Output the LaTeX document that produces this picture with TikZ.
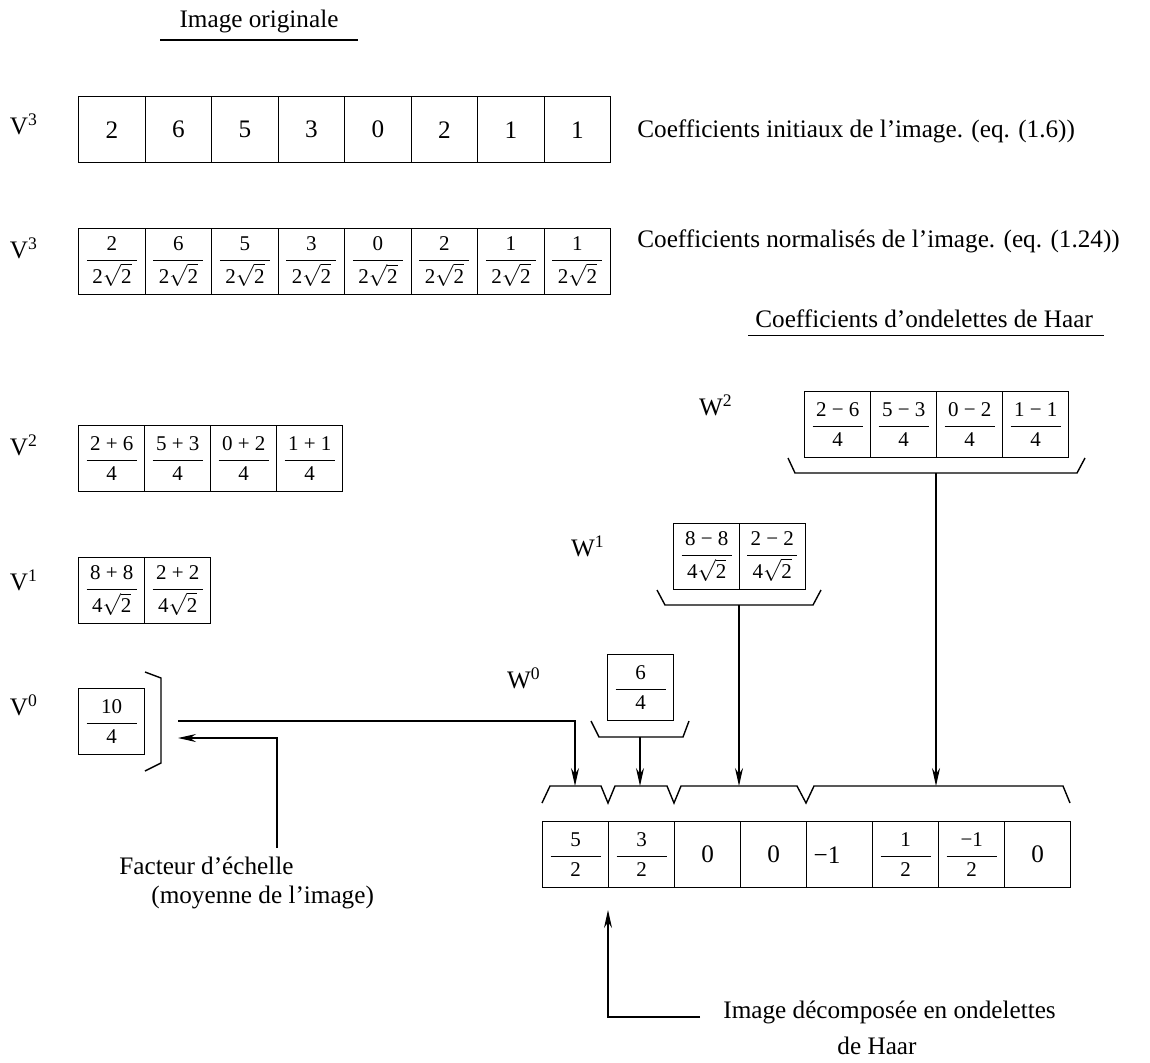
\documentclass[tikz,border=0pt]{standalone}
\usepackage{amsmath}
\usepackage{fontspec}
\setmainfont{Liberation Serif}
\usetikzlibrary{calc,arrows.meta}

% fraction inside a cell, and "n sqrt 2" denominators
\newcommand{\cellfrac}[2]{{\fontsize{10.5}{12}\selectfont$\dfrac{\makebox[25pt]{#1}}{\makebox[25pt]{#2}}$}}
\newcommand{\cellfracr}[2]{{\fontsize{10.5}{12}\selectfont$\dfrac{\makebox[25pt]{\rule[-3pt]{0pt}{3pt}#1}}{\makebox[25pt]{\rule{0pt}{10pt}#2}}$}}
\newcommand{\rootd}[1]{#1$\sqrt{\text{2}}$}

\begin{document}
\begin{tikzpicture}[
    x=0.5pt, y=-0.5pt,
    line width=0.7pt,
    font=\fontsize{12.6}{17}\selectfont,
    % Custom styles for the cells and the arrows
    cell/.style={draw, inner sep=0pt, anchor=north west,
                 minimum width=33pt, minimum height=33pt},
    lvl/.style={font=\fontsize{12.6}{17}\selectfont},
    arr/.style={line width=0.6pt, -{Stealth[length=9pt, width=4pt]}}
]

% ---------------------------------------------------------
% 0. BOUNDING BOX (same ratio as the reference, 1 unit = 1 px)
% ---------------------------------------------------------
\path [use as bounding box] (0,0) rectangle (1150,1062);

% ---------------------------------------------------------
% 1. ORIGINAL IMAGE
% ---------------------------------------------------------
\node (ttl) at (259,21) {Image originale};
\draw ($(ttl.south west)+(-12,0)$) -- ($(ttl.south east)+(12,0)$);

% Initial coefficients (V3)
\node[lvl] (lA) at (24,124) {V\textsuperscript{3}};
\foreach \v [count=\i] in {2,6,5,3,0,2,1,1}
    \node[cell, minimum width=33.25pt, minimum height=33pt] (A\i) at ({78+66.5*(\i-1)},96) {\v};
\node[anchor=west] (tA) at (630,131) {Coefficients initiaux de l'image. (eq. (1.6))};

% Normalised coefficients (V3)
\node[lvl] (lB) at (24,248) {V\textsuperscript{3}};
\foreach \v [count=\i] in {2,6,5,3,0,2,1,1}
    \node[cell, minimum width=33.25pt] (B\i) at ({78+66.5*(\i-1)},228) {\cellfracr{\v}{\rootd{2}}};
\node[anchor=west] (tB) at (630,241) {Coefficients normalisés de l'image. (eq. (1.24))};

% ---------------------------------------------------------
% 2. SCALING SPACES V2, V1, V0
% ---------------------------------------------------------
\node[lvl] (lV2) at (24,445) {V\textsuperscript{2}};
\foreach \n [count=\i] in {2 + 6, 5 + 3, 0 + 2, 1 + 1}
    \node[cell] (P\i) at ({78+66*(\i-1)},425) {\cellfrac{\n}{4}};

\node[lvl] (lV1) at (24,580) {V\textsuperscript{1}};
\foreach \n [count=\i] in {8 + 8, 2 + 2}
    \node[cell] (Q\i) at ({78+66*(\i-1)},557) {\cellfracr{\n}{\rootd{4}}};

\node[lvl] (lV0) at (24,705) {V\textsuperscript{0}};
\node[cell] (R1) at (78,688) {\cellfrac{10}{4}};
\draw (145,672) -- (161,678) -- (161,763) -- (145,771); % bracket

% ---------------------------------------------------------
% 3. WAVELET SPACES W2, W1, W0
% ---------------------------------------------------------
\node[anchor=west] (haar) at (748,319) {Coefficients d'ondelettes de Haar};
\draw (haar.south west) -- ($(haar.south east)+(4,0)$);

\node[lvl] (lW2) at (716,405) {W\textsuperscript{2}};
\foreach \n [count=\i] in {2 − 6, 5 − 3, 0 − 2, 1 − 1}
    \node[cell] (S\i) at ({804+66*(\i-1)},391) {\cellfrac{\n}{4}};
\draw (788,458) -- (795,473) -- (1077,473) -- (1085,458);

\node[lvl] (lW1) at (588,546) {W\textsuperscript{1}};
\foreach \n [count=\i] in {8 − 8, 2 − 2}
    \node[cell] (T\i) at ({673+65.5*(\i-1)},523) {\cellfracr{\n}{\rootd{4}}};
\draw (657,590) -- (665,605) -- (813,605) -- (821,590);

\node[lvl] (lW0) at (524,678) {W\textsuperscript{0}};
\node[cell] (U1) at (607,654) {\cellfrac{6}{4}};
\draw (591,721) -- (599,737) -- (683,737) -- (689,721);

% ---------------------------------------------------------
% 4. DECOMPOSED IMAGE
% ---------------------------------------------------------
\foreach \c [count=\i] in {\cellfrac{5}{2}, \cellfrac{3}{2}, 0, 0,
        \makebox[26pt][l]{−1}, \cellfrac{1}{2}, \cellfrac{−1}{2}, 0}
    \node[cell, minimum height=33pt] (H\i) at ({542+66*(\i-1)},821) {\c};

% Group brace over the result row
\draw (542,803) -- (550,786) -- (601,786) -- (608,803) -- (615,786)
      -- (667,786) -- (674,803) -- (681,786) -- (797,786) -- (806,803)
      -- (814,786) -- (1063,786) -- (1070,803);

% Stem ends
\coordinate (w2out) at (936,473);
\coordinate (w1out) at (739,605);
\coordinate (w0out) at (640,737);
\coordinate (v0out) at (178,721);
\coordinate (g1in)  at (575,786);
\coordinate (g2in)  at (640,786);
\coordinate (g3in)  at (739,786);
\coordinate (g4in)  at (936,786);

\draw[arr] (v0out) -| (g1in);
\draw[arr] (w0out) -- (g2in);
\draw[arr] (w1out) -- (g3in);
\draw[arr] (w2out) -- (g4in);

% Labels with pointer arrows
\coordinate (scaletail) at (277,848);
\coordinate (v0in)      at (178,738);
\draw[arr] (scaletail) |- (v0in);
\node[anchor=west] (fac1) at (112,866) {Facteur d'échelle};
\node[anchor=west] (fac2) at (144,897) {(moyenne de l'image)};

\coordinate (dectail) at (700,1017);
\coordinate (decin)   at (608,910);
\draw[arr] (dectail) -| (decin);
\node[anchor=west] (dec1) at (716,1012) {Image décomposée en ondelettes};
\node (dec2) at (877,1046) {de Haar};

\end{tikzpicture}
\end{document}
